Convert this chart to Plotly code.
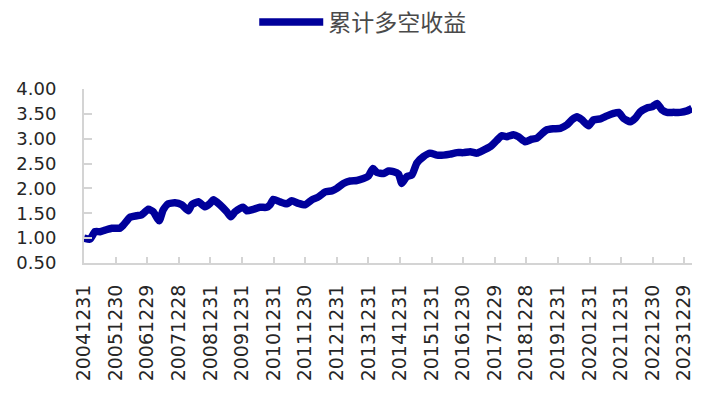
import plotly.graph_objects as go

# Cumulative long-short return
dates = [
    "2004-12-31", "2005-03-10", "2005-05-07", "2005-07-04", "2005-08-31", "2005-11-17",
    "2006-02-20", "2006-03-30", "2006-06-16", "2006-09-01", "2006-10-28", "2007-01-13",
    "2007-03-11", "2007-05-19", "2007-07-04", "2007-08-31", "2007-11-17", "2008-02-03",
    "2008-04-20", "2008-05-29", "2008-08-13", "2008-10-30", "2008-12-27", "2009-02-03",
    "2009-04-21", "2009-07-08", "2009-08-23", "2009-10-12", "2009-12-09", "2010-01-16",
    "2010-02-24", "2010-05-11", "2010-07-27", "2010-10-13", "2010-11-20", "2010-12-28",
    "2011-03-16", "2011-06-02", "2011-07-29", "2011-10-13", "2011-12-30", "2012-03-17",
    "2012-06-01", "2012-08-18", "2012-11-03", "2012-12-31", "2013-03-17", "2013-06-03",
    "2013-08-19", "2013-11-03", "2013-12-31", "2014-02-21", "2014-04-08", "2014-06-23",
    "2014-08-19", "2014-10-16", "2014-12-13", "2015-01-21", "2015-03-20", "2015-05-17",
    "2015-07-13", "2015-09-28", "2015-12-14", "2016-03-01", "2016-05-17", "2016-08-02",
    "2016-10-18", "2017-01-02", "2017-03-21", "2017-06-07", "2017-08-22", "2017-11-07",
    "2018-01-24", "2018-03-23", "2018-05-19", "2018-08-03", "2018-09-30", "2018-12-17",
    "2019-03-04", "2019-05-01", "2019-06-27", "2019-08-24", "2019-11-09", "2020-01-26",
    "2020-04-13", "2020-06-09", "2020-08-06", "2020-10-02", "2020-12-18", "2021-02-13",
    "2021-05-02", "2021-07-18", "2021-10-02", "2021-11-29", "2022-01-26", "2022-04-13",
    "2022-06-10", "2022-08-06", "2022-10-23", "2022-12-21", "2023-02-17", "2023-04-15",
    "2023-06-11", "2023-08-27", "2023-11-13", "2024-01-30", "2024-03-27",
]
cum_ls_return = [
    1.00, 0.98, 1.13, 1.13, 1.16, 1.20,
    1.20, 1.26, 1.42, 1.45, 1.47, 1.58,
    1.53, 1.35, 1.57, 1.69, 1.71, 1.67,
    1.55, 1.67, 1.73, 1.63, 1.70, 1.77,
    1.67, 1.53, 1.43, 1.53, 1.60, 1.62,
    1.55, 1.58, 1.62, 1.62, 1.67, 1.78,
    1.73, 1.69, 1.75, 1.70, 1.67, 1.77,
    1.83, 1.93, 1.95, 2.00, 2.10, 2.15,
    2.16, 2.20, 2.25, 2.40, 2.32, 2.30,
    2.35, 2.34, 2.29, 2.10, 2.24, 2.27,
    2.51, 2.64, 2.71, 2.67, 2.67, 2.69,
    2.72, 2.72, 2.74, 2.71, 2.77, 2.84,
    2.97, 3.06, 3.04, 3.08, 3.04, 2.94,
    2.99, 3.01, 3.10, 3.18, 3.20, 3.21,
    3.28, 3.38, 3.44, 3.38, 3.26, 3.38,
    3.40, 3.46, 3.51, 3.53, 3.41, 3.34,
    3.41, 3.54, 3.62, 3.64, 3.71, 3.58,
    3.53, 3.53, 3.53, 3.56, 3.61,
]

tick_dates = [
    "2004-12-31", "2005-12-30", "2006-12-29", "2007-12-28", "2008-12-31",
    "2009-12-31", "2010-12-31", "2011-12-30", "2012-12-31", "2013-12-31",
    "2014-12-31", "2015-12-31", "2016-12-30", "2017-12-29", "2018-12-28",
    "2019-12-31", "2020-12-31", "2021-12-31", "2022-12-30", "2023-12-29",
]
tick_labels = [d.replace("-", "") for d in tick_dates]

y_ticks = [0.5, 1.0, 1.5, 2.0, 2.5, 3.0, 3.5, 4.0]

line_color = "#00009b"
axis_color = "#d4d4d4"
text_color = "#262626"

fig = go.Figure()
fig.add_trace(go.Scatter(
    x=dates, y=cum_ls_return, mode="lines", name="累计多空收益",
    line=dict(color=line_color, width=7.5, shape="spline", smoothing=0.5),
))

fig.update_layout(
    width=708, height=399,
    margin=dict(l=84, r=16, t=89, b=136),
    paper_bgcolor="white", plot_bgcolor="white",
    showlegend=True,
    legend=dict(
        orientation="h", x=0.28, xanchor="left", y=0.945, yanchor="middle",
        yref="container", itemwidth=64,
        font=dict(family="Noto Sans CJK SC", size=23, color="#4a4a4a"),
        bgcolor="rgba(0,0,0,0)",
    ),
    font=dict(family="DejaVu Sans", color=text_color),
)

fig.update_xaxes(
    type="date",
    range=[dates[0], dates[-1]],
    tickvals=tick_dates, ticktext=tick_labels, tickangle=-90,
    ticks="inside", ticklen=6, tickcolor=axis_color, tickwidth=1.5,
    showline=True, linecolor=axis_color, linewidth=2,
    showgrid=False, zeroline=False,
    tickfont=dict(family="DejaVu Sans", size=19, color=text_color),
    ticklabelstandoff=12,
)
fig.update_yaxes(
    range=[0.5, 4.0],
    tickvals=y_ticks, tickformat=".2f",
    ticks="inside", ticklen=8, tickcolor=axis_color, tickwidth=1.5,
    showline=True, linecolor=axis_color, linewidth=2,
    showgrid=False, zeroline=False,
    tickfont=dict(family="DejaVu Sans", size=18, color=text_color),
    ticklabelstandoff=22,
)

fig.write_html("out.html")
